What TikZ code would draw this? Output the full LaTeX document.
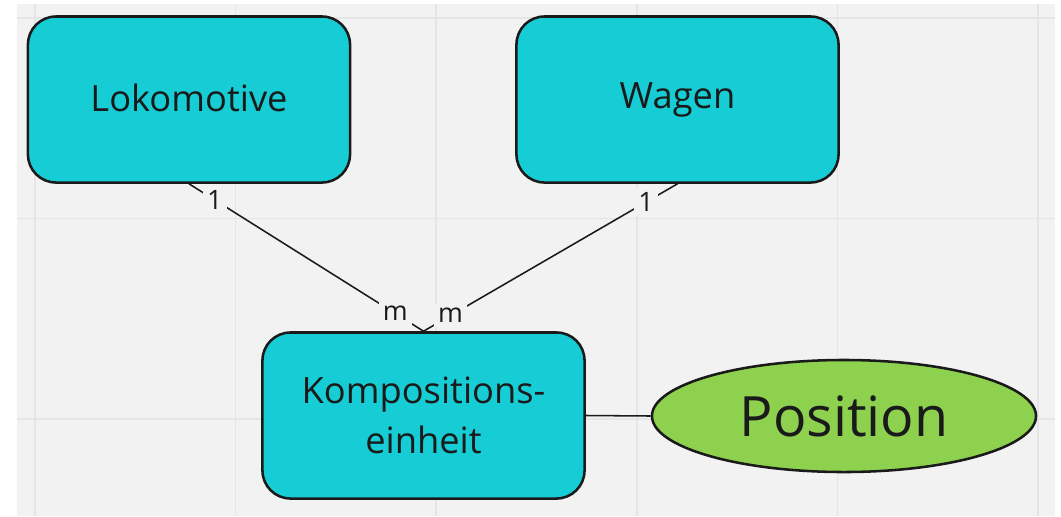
\documentclass[tikz,border=0pt]{standalone}
\usepackage{fontspec}
\setmainfont{Open Sans}
\usetikzlibrary{shapes.geometric}
\definecolor{boxcyan}{HTML}{17CDD5}
\definecolor{posgreen}{HTML}{8DD14F}
\definecolor{boardgray}{HTML}{F2F2F2}
\definecolor{gridgray}{HTML}{E5E5E5}
\definecolor{inkdark}{HTML}{1A1A1A}

\begin{document}
\begin{tikzpicture}[x=0.025cm,y=-0.025cm,
    entity/.style={draw=inkdark,line width=1.8pt,fill=boxcyan,rounded corners=0.7cm,
        minimum width=8.05cm,minimum height=4.15cm,inner sep=0pt,align=center,
        text=inkdark,font=\fontsize{25.8}{35.5}\selectfont},
    attrib/.style={ellipse,draw=inkdark,line width=1.8pt,fill=posgreen,
        minimum width=9.6cm,minimum height=2.8cm,inner sep=0pt,
        text=inkdark,font=\fontsize{39.5}{39.5}\selectfont},
    card/.style={fill=boardgray,inner sep=3pt,text=inkdark,font=\fontsize{19}{19}\selectfont},
    link/.style={draw=inkdark,line width=1.1pt}]
            \useasboundingbox (0,0) rectangle (1061,516);
            \fill[white] (0,0) rectangle (1061,516);
            \fill[boardgray] (17,4) rectangle (1055,516);
            \foreach \gx in {35,235.6,436.2,636.8,837.4,1038}
                \draw[gridgray,line width=1.2pt] (\gx,4)--(\gx,516);
            \foreach \gy in {18,218.6,419.2}
                \draw[gridgray,line width=1.2pt] (17,\gy)--(1055,\gy);
            \node[entity] (loko) at (189,99.5) {\raisebox{2pt}{Lokomotive}};
            \node[entity] (wagen) at (677.5,99.5) {\raisebox{2pt}{Wagen}};
            \node[entity] (komp) at (423.5,415.5) {Kompositions-\\einheit};
            \node[attrib] (pos) at (844,416) {Position};
            \draw[link] (loko.south) -- node[card,pos=0.11] (c1) {1} node[card,pos=0.88] (cm1) {m} (komp.north);
            \draw[link] (wagen.south) -- node[card,pos=0.124] (c2) {1} node[card,pos=0.894] (cm2) {m} (komp.north);
            \draw[link] (komp.east) -- (pos.west);
        \end{tikzpicture}
\end{document}
